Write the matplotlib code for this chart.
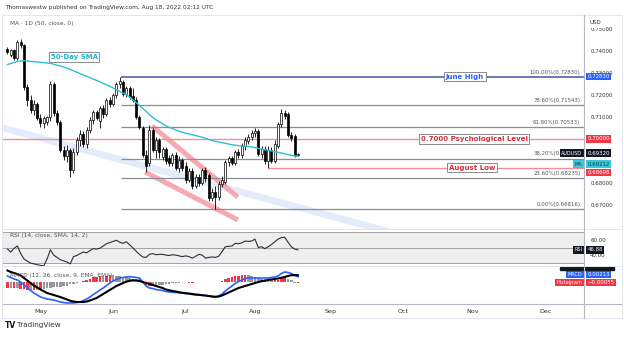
import matplotlib.pyplot as plt
from matplotlib.lines import Line2D
from matplotlib.patches import Rectangle
import numpy as np
import pandas as pd

# AUD/USD daily, Apr 18 - Aug 18 2022
dates = pd.bdate_range("2022-04-18", "2022-12-30")

opens = [.7409, .7382, .7405, .7368, .7441, .7427, .7236, .7177, .7132, .7159,
         .7095, .7073, .7077, .7100, .7250, .7118, .7077, .6950, .6923, .6950,
         .6859, .6941, .6995, .7023, .6977, .7041, .7086, .7123, .7082, .7141,
         .7114, .7177, .7159, .7200, .7250, .7259, .7205, .7232, .7195, .7177,
         .7100, .7050, .6927, .6891, .7041, .6950, .6995, .6918, .6955, .6914,
         .6891, .6927, .6868, .6905, .6877, .6814, .6855, .6786, .6827, .6800,
         .6859, .6836, .6732, .6759, .6736, .6795, .6805, .6895, .6914, .6891,
         .6941, .6927, .6968, .6991, .7009, .7027, .7036, .6932, .6955, .6900,
         .6950, .6900, .6968, .7068, .7118, .7114, .7018, .7014, .6929]
highs = [.7418, .7409, .7409, .7450, .7455, .7432, .7250, .7200, .7177, .7168,
         .7114, .7105, .7105, .7264, .7259, .7132, .7086, .6968, .6973, .6959,
         .6959, .7009, .7041, .7036, .7055, .7100, .7132, .7132, .7150, .7155,
         .7186, .7191, .7209, .7259, .7282, .7268, .7241, .7241, .7232, .7191,
         .7109, .7059, .6950, .7064, .7050, .7009, .7005, .6964, .6964, .6927,
         .6936, .6941, .6923, .6914, .6895, .6868, .6868, .6841, .6841, .6868,
         .6873, .6845, .6777, .6786, .6809, .6832, .6905, .6923, .6923, .6950,
         .6955, .6982, .7009, .7023, .7041, .7050, .7045, .6968, .6968, .6968,
         .6964, .6995, .7077, .7136, .7132, .7123, .7032, .7023, .6936]
lows = [.7386, .7373, .7359, .7359, .7414, .7223, .7150, .7118, .7109, .7086,
        .7055, .7050, .7064, .7082, .7105, .7064, .6941, .6905, .6895, .6827,
        .6845, .6927, .6968, .6964, .6959, .7027, .7068, .7086, .7050, .7095,
        .7105, .7145, .7150, .7186, .7232, .7195, .7191, .7182, .7168, .7091,
        .7045, .6918, .6850, .6877, .6941, .6914, .6914, .6905, .6886, .6877,
        .6877, .6859, .6850, .6855, .6800, .6805, .6773, .6777, .6786, .6791,
        .6805, .6718, .6718, .6682, .6723, .6782, .6795, .6877, .6882, .6882,
        .6914, .6914, .6950, .6977, .6995, .7009, .6923, .6914, .6886, .6870,
        .6891, .6891, .6959, .7055, .7091, .7009, .6991, .6918, .6923]
closes = [.7395, .7405, .7368, .7441, .7427, .7236, .7177, .7132, .7159, .7095,
          .7073, .7095, .7100, .7250, .7118, .7077, .6950, .6923, .6950, .6859,
          .6941, .6995, .7023, .6977, .7041, .7086, .7123, .7095, .7141, .7114,
          .7177, .7159, .7200, .7250, .7264, .7205, .7232, .7191, .7177, .7100,
          .7055, .6927, .6877, .7041, .6950, .6995, .6941, .6955, .6900, .6891,
          .6927, .6868, .6905, .6868, .6814, .6855, .6786, .6827, .6800, .6859,
          .6823, .6732, .6759, .6736, .6795, .6814, .6895, .6914, .6891, .6941,
          .6927, .6968, .6995, .7009, .7027, .7036, .6932, .6955, .6900, .6950,
          .6900, .6977, .7068, .7118, .7105, .7018, .7005, .6927, .6932]

sma50 = [.73386, .73432, .73477, .73523, .73545, .73559, .73545, .73532, .73513, .73500,
         .73486, .73472, .73454, .73441, .73395, .73354, .73318, .73272, .73227, .73163,
         .73100, .73036, .72972, .72909, .72850, .72791, .72727, .72663, .72604, .72523,
         .72463, .72400, .72318, .72241, .72163, .72091, .72018, .71909, .71782, .71655,
         .71523, .71386, .71250, .71114, .70977, .70873, .70782, .70691, .70600, .70532,
         .70473, .70413, .70350, .70304, .70263, .70227, .70191, .70154, .70118, .70082,
         .70032, .69977, .69932, .69895, .69864, .69832, .69805, .69773, .69741, .69718,
         .69700, .69682, .69668, .69654, .69636, .69604, .69573, .69545, .69514, .69482,
         .69455, .69418, .69391, .69364, .69327, .69291, .69255, .69227, .69212]

rsi = [48, 44, 49, 52, 42, 35, 32, 29.5, 28.5, 27.5,
       26.5, 26, 35, 47, 40, 37, 34, 32.5, 31, 28.5,
       38, 39.5, 42, 44, 43, 46, 48.5, 48, 49, 52,
       55, 56.5, 58, 59.5, 57, 55.5, 57.5, 53.5, 49.5, 45,
       41, 37.5, 37, 41, 42, 40.5, 41, 41, 40, 39.5,
       40.5, 40, 39, 38, 39, 38, 36, 38.5, 41, 40,
       36, 37, 37.5, 37, 38.5, 44.5, 51, 51.5, 52, 55.4,
       55, 56, 58.4, 58, 58.5, 61, 50, 51, 48.5, 51,
       54, 57.5, 61, 63, 63.5, 57, 51, 48, 46.88]

macd = [.0024, .0018, .0012, .0008, .0000, -.0012, -.0024, -.0034, -.0044, -.0052,
        -.0060, -.0064, -.0068, -.0070, -.0072, -.0076, -.0080, -.0082, -.0084, -.0084,
        -.0084, -.0082, -.0080, -.0074, -.0068, -.0060, -.0050, -.0042, -.0032, -.0024,
        -.0014, -.0004, .0004, .0010, .0016, .0018, .0020, .0021, .0020, .0018,
        .0016, .0000, -.0016, -.0024, -.0026, -.0030, -.0032, -.0034, -.0038, -.0040,
        -.0041, -.0042, -.0043, -.0044, -.0046, -.0048, -.0050, -.0051, -.0052, -.0053,
        -.0054, -.0056, -.0058, -.0060, -.0056, -.0048, -.0036, -.0026, -.0016, -.0006,
        .0002, .0008, .0014, .0016, .0016, .0016, .0016, .0016, .0016, .0016,
        .0018, .0020, .0024, .0034, .0040, .0038, .0034, .0026, .00213]
signal = [.0046, .0040, .0036, .0032, .0026, .0016, .0006, -.0004, -.0014, -.0022,
          -.0030, -.0037, -.0044, -.0048, -.0052, -.0056, -.0060, -.0065, -.0070, -.0075,
          -.0078, -.0080, -.0080, -.0080, -.0078, -.0074, -.0069, -.0064, -.0056, -.0048,
          -.0040, -.0032, -.0024, -.0016, -.0010, -.0004, .0001, .0005, .0007, .0006,
          .0004, .0000, -.0004, -.0008, -.0012, -.0016, -.0020, -.0024, -.0030, -.0033,
          -.0036, -.0038, -.0041, -.0043, -.0045, -.0046, -.0048, -.0050, -.0051, -.0053,
          -.0054, -.0056, -.0058, -.0059, -.0058, -.0054, -.0048, -.0042, -.0036, -.0030,
          -.0024, -.0020, -.0016, -.0012, -.0008, -.0004, .0000, .0003, .0005, .0008,
          .0010, .0012, .0014, .0017, .0020, .0024, .0027, .0028, .00268]

fib_low, fib_high = 0.66816, 0.72830
fib_ratios = [0.0, 0.236, 0.382, 0.618, 0.786, 1.0]
psych_level = 0.70000
aug_low = 0.68698
month_names = ["May", "Jun", "Jul", "Aug", "Sep", "Oct", "Nov", "Dec"]

n = len(closes)
x = np.arange(n)
o, h, l, c = map(np.array, (opens, highs, lows, closes))
hist = np.array(macd) - np.array(signal)

W, H = 624, 337
fig = plt.figure(figsize=(W / 100, H / 100), dpi=100)
fig.patch.set_facecolor("white")


def pane(top, bottom):
    return [3 / W, 1 - bottom / H, 581 / W, (bottom - top) / H]


ax = fig.add_axes(pane(15, 229))
ax_rsi = fig.add_axes(pane(229, 266), sharex=ax)
ax_macd = fig.add_axes(pane(266, 304), sharex=ax)
for a in (ax, ax_rsi, ax_macd):
    for s in a.spines.values():
        s.set_visible(False)
    a.tick_params(length=0)
ax.set_xlim(-1.36, 174.7)
ax.set_ylim(0.65909, 0.75636)
ax_rsi.set_ylim(25.7, 74.3)
ax_macd.set_ylim(-0.0088, 0.0064)

# trend band and channel
bx = np.array([-1.4, 140])
by = 0.7052 + (bx + 1.4) * (0.6591 - 0.7052) / (112.9 + 1.4)
ax.fill_between(bx, by - 0.0016, by + 0.0016, color="#e2ecfb", lw=0, zorder=1)
ax.plot([43.8, 69.8], [0.7059, 0.6736], color="#f6a9af", lw=3.6, solid_capstyle="butt", zorder=1)
ax.plot([41.7, 69.8], [0.6850, 0.6632], color="#f6a9af", lw=3.6, solid_capstyle="butt", zorder=1)

# fibonacci levels
xr = 174.7
for r in fib_ratios:
    lvl = fib_low + r * (fib_high - fib_low)
    col = "#3b57a6" if r == 1.0 else "#8a8d96"
    ax.hlines(lvl, 34.5, xr, color=col, lw=1.1 if r == 1.0 else 0.9, zorder=2)
    ax.annotate(f"{r * 100:.2f}%({lvl:.5f})", xy=(173.6, lvl), xytext=(0, 1.6),
                textcoords="offset points", ha="right", va="bottom",
                fontsize=3.9, color="#555555", zorder=3)
ax.axhline(psych_level, color="#f58d95", lw=1.0, zorder=2)
ax.hlines(aug_low, 79, xr, color="#f58d95", lw=1.0, zorder=2)

# candles
up = c >= o
ax.vlines(x, l, h, color="black", lw=0.6, zorder=4)
body = np.maximum(np.abs(c - o), 0.00015)
ax.bar(x, body, bottom=np.minimum(o, c), width=0.6,
       color=np.where(up, "white", "black"), edgecolor="black", lw=0.5, zorder=5)
ax.plot(x, sma50, color="#2ebfd3", lw=1.0, zorder=6)


# annotation boxes
def label(xi, y, text, color):
    ax.text(xi, y, text, ha="center", va="center", fontsize=5, fontweight="bold",
            color=color, zorder=8,
            bbox=dict(boxstyle="square,pad=0.25", fc="white", ec="#7a7a7a", lw=0.6))


label(20.2, 0.7373, "50-Day SMA", "#1fb5cc")
label(138.6, fib_high, "June High", "#2962ff")
label(141.4, psych_level, "0.7000 Psychological Level", "#d0303c")
label(140.8, aug_low, "August Low", "#d0303c")

# right price scale (levels hidden under tags are left out)
ax.yaxis.tick_right()
ticks = [0.67, 0.68, 0.71, 0.72, 0.73, 0.74, 0.75]
ax.set_yticks(ticks)
ax.set_yticklabels([f"{t:.5f}" for t in ticks])
ax.tick_params(axis="y", labelsize=3.9, labelcolor="#333333", pad=4.5)
ax.tick_params(axis="x", labelbottom=False)


def tag(a, val, text, bg, fg="white", dy=0, side=None):
    a.annotate(text, xy=(1, val), xycoords=a.get_yaxis_transform(),
               xytext=(2.6, dy), textcoords="offset points", ha="left", va="center",
               fontsize=3.9, color=fg, annotation_clip=False, zorder=20,
               bbox=dict(boxstyle="square,pad=0.22", fc=bg, ec="none"))
    if side:
        a.annotate(side, xy=(1, val), xycoords=a.get_yaxis_transform(),
                   xytext=(-1.2, dy), textcoords="offset points", ha="right", va="center",
                   fontsize=3.5, color=fg, annotation_clip=False, zorder=20,
                   bbox=dict(boxstyle="square,pad=0.25", fc=bg, ec="none"))


tag(ax, fib_high, f"{fib_high:.5f}", "#2962ff")
tag(ax, psych_level, f"{psych_level:.5f}", "#f23645")
tag(ax, closes[-1], f"{closes[-1]:.5f}", "#131722", dy=0.6, side="AUDUSD")
tag(ax, sma50[-1], f"{sma50[-1]:.5f}", "#3cc8dc", fg="#0b3d45", dy=-5.6, side="MA")
tag(ax, aug_low, f"{aug_low:.5f}", "#f23645", dy=-3.4)

# RSI pane
ax_rsi.fill_between([-2, 180], 30, 70, color="#eeeeee", lw=0, zorder=0)
for lv in (30, 50, 70):
    ax_rsi.axhline(lv, color="#a3a3a3", lw=0.7, zorder=1)
ax_rsi.plot(x, rsi, color="#2a2e39", lw=0.8, zorder=3)
ax_rsi.yaxis.tick_right()
ax_rsi.set_yticks([40, 60])
ax_rsi.set_yticklabels(["40.00", "60.00"])
ax_rsi.tick_params(axis="y", labelsize=3.9, labelcolor="#333333", pad=4.5)
ax_rsi.tick_params(axis="x", labelbottom=False)
tag(ax_rsi, rsi[-1], f"{rsi[-1]:.2f}", "#131722", side="RSI")
ax_rsi.text(0.012, 0.83, "RSI (14, close, SMA, 14, 2)", transform=ax_rsi.transAxes,
            fontsize=4.2, color="#555555", va="center", zorder=5)

# MACD pane
hcol = ["#f23645" if i > 0 and abs(hist[i]) > abs(hist[i - 1]) else "#9598a1" for i in range(n)]
hcol[0] = "#f23645"
ax_macd.bar(x, hist, width=0.78, color=hcol, lw=0, zorder=1)
ax_macd.plot(x, macd, color="#2962ff", lw=1.2, zorder=3)
ax_macd.plot(x, signal, color="black", lw=1.5, zorder=4)
ax_macd.yaxis.tick_right()
ax_macd.set_yticks([])
ax_macd.text(0.012, 0.74, "MACD (12, 26, close, 9, EMA, EMA)", transform=ax_macd.transAxes,
             fontsize=4.2, color="#555555", va="center", zorder=5)
tag(ax_macd, macd[-1], f"{macd[-1]:.5f}", "#2962ff", dy=1.8, side="MACD")
tag(ax_macd, 0.0, f"\u2212{abs(hist[-1]):.5f}", "#f23645", dy=-0.3, side="Histogram")

month_pos = [int(np.argmax((dates.month == m) & (dates.year == 2022))) for m in range(5, 13)]
ax_macd.set_xticks(month_pos)
ax_macd.set_xticklabels(month_names)
ax_macd.tick_params(axis="x", labelsize=4.6, labelcolor="#333333", pad=3.5)


# frame, separators, header and footer
def fline(x0, x1, y0, y1, col, lw=0.7):
    fig.add_artist(Line2D([x0 / W, x1 / W], [1 - y0 / H, 1 - y1 / H], color=col, lw=lw, zorder=30))


fig.add_artist(Rectangle((560 / W, 1 - 270 / H), 54 / W, 3 / H, color="#131722", zorder=29))
fline(2, 622, 15, 15, "#e3e6ee")
fline(2, 622, 229, 229, "#e3e6ee")
fline(2, 622, 266, 266, "#e3e6ee")
fline(2, 622, 304, 304, "#b5b8c0", 0.8)
fline(2, 622, 318, 318, "#e3e6ee")
fline(584, 584, 15, 318, "#b5b8c0", 0.8)
fline(2, 2, 15, 318, "#e3e6ee")
fline(622, 622, 15, 318, "#e3e6ee")

fig.text(5 / W, 1 - 8 / H, "Thomaswestw published on TradingView.com, Aug 18, 2022 02:12 UTC",
         fontsize=4.2, color="#333333", va="center")
fig.text(10 / W, 1 - 23 / H, "MA \u00b7 1D (50, close, 0)", fontsize=4.2, color="#555555", va="center")
fig.text(590 / W, 1 - 22 / H, "USD", fontsize=4.0, color="#333333", va="center",
         bbox=dict(boxstyle="square,pad=0.6", fc="white", ec="none"), zorder=31)
fig.text(5 / W, 1 - 325 / H, "TV", fontsize=5.5, fontweight="bold", color="#131722", va="center")
fig.text(17 / W, 1 - 325 / H, "TradingView", fontsize=5.2, color="#333333", va="center")

fig.savefig("out.png", dpi=100)
